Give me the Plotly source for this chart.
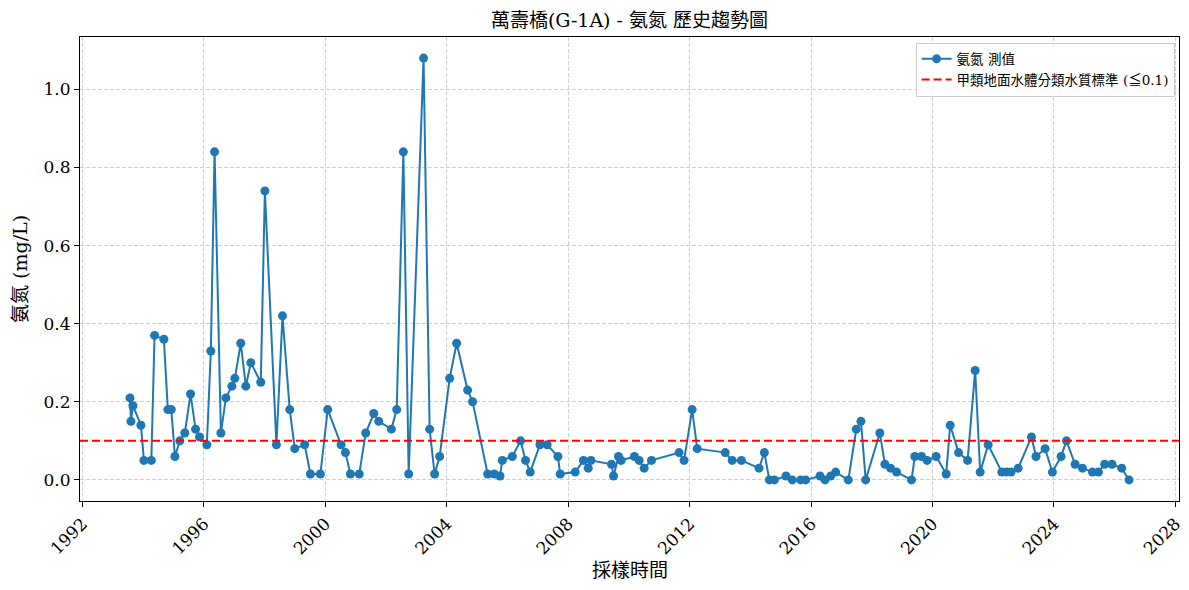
import pandas as pd
import plotly.graph_objects as go

# sampling dates and ammonia-nitrogen values (mg/L)
dates = [
    "1993-07-26", "1993-08-07", "1993-08-31", "1993-12-05", "1994-01-10", "1994-04-09",
    "1994-05-18", "1994-09-07", "1994-10-25", "1994-12-05", "1995-01-18", "1995-03-18",
    "1995-05-17", "1995-07-25", "1995-09-23", "1995-11-10", "1996-02-06", "1996-03-25",
    "1996-05-09", "1996-07-24", "1996-09-22", "1996-12-03", "1997-01-08", "1997-03-20",
    "1997-05-20", "1997-07-19", "1997-11-16", "1998-01-04", "1998-05-23", "1998-08-04",
    "1998-10-30", "1998-12-30", "1999-04-28", "1999-07-06", "1999-11-03", "2000-01-30",
    "2000-07-09", "2000-08-30", "2000-10-29", "2001-02-12", "2001-05-01", "2001-08-06",
    "2001-10-05", "2002-03-06", "2002-05-09", "2002-07-28", "2002-09-30", "2003-03-28",
    "2003-06-09", "2003-08-08", "2003-10-08", "2004-02-05", "2004-04-29", "2004-09-08",
    "2004-11-07", "2005-05-07", "2005-07-26", "2005-10-03", "2005-10-30", "2006-02-28",
    "2006-06-07", "2006-08-06", "2006-10-01", "2007-01-26", "2007-04-23", "2007-08-30",
    "2007-09-27", "2008-03-25", "2008-07-03", "2008-08-29", "2008-10-01", "2009-06-05",
    "2009-06-29", "2009-08-28", "2009-09-29", "2010-03-08", "2010-05-04", "2010-07-03",
    "2010-09-29", "2011-08-27", "2011-10-26", "2012-01-31", "2012-04-01", "2013-03-04",
    "2013-05-27", "2013-09-15", "2014-04-15", "2014-06-18", "2014-08-17", "2014-10-16",
    "2015-03-05", "2015-05-20", "2015-08-29", "2015-10-28", "2016-04-17", "2016-06-17",
    "2016-08-24", "2016-10-23", "2017-03-24", "2017-06-28", "2017-08-23", "2017-10-19",
    "2018-04-07", "2018-06-07", "2018-08-14", "2018-10-26", "2019-04-23", "2019-06-02",
    "2019-08-22", "2019-10-28", "2020-02-14", "2020-06-13", "2020-07-31", "2020-11-09",
    "2021-02-26", "2021-05-28", "2021-07-27", "2021-10-31", "2022-04-13", "2022-06-09",
    "2022-08-03", "2022-10-27", "2023-04-05", "2023-05-30", "2023-09-16", "2023-12-13",
    "2024-03-26", "2024-05-30", "2024-09-11", "2024-12-09", "2025-04-08", "2025-06-19",
    "2025-09-02", "2025-11-29", "2026-03-26", "2026-06-22",
]
nh3n = [
    0.21, 0.15, 0.19, 0.14, 0.05, 0.05,
    0.37, 0.36, 0.18, 0.18, 0.06, 0.10,
    0.12, 0.22, 0.13, 0.11, 0.09, 0.33,
    0.84, 0.12, 0.21, 0.24, 0.26, 0.35,
    0.24, 0.30, 0.25, 0.74, 0.09, 0.42,
    0.18, 0.08, 0.09, 0.015, 0.015, 0.18,
    0.09, 0.07, 0.015, 0.015, 0.12, 0.17,
    0.15, 0.13, 0.18, 0.84, 0.015, 1.08,
    0.13, 0.015, 0.06, 0.26, 0.35, 0.23,
    0.20, 0.015, 0.015, 0.01, 0.05, 0.06,
    0.10, 0.05, 0.02, 0.09, 0.09, 0.06,
    0.015, 0.02, 0.05, 0.03, 0.05, 0.04,
    0.01, 0.06, 0.05, 0.06, 0.05, 0.03,
    0.05, 0.07, 0.05, 0.18, 0.08, 0.07,
    0.05, 0.05, 0.03, 0.07, 0.00, 0.00,
    0.01, 0.00, 0.00, 0.00, 0.01, 0.00,
    0.01, 0.02, 0.00, 0.13, 0.15, 0.00,
    0.12, 0.04, 0.03, 0.02, 0.00, 0.06,
    0.06, 0.05, 0.06, 0.015, 0.14, 0.07,
    0.05, 0.28, 0.02, 0.09, 0.02, 0.02,
    0.02, 0.03, 0.11, 0.06, 0.08, 0.02,
    0.06, 0.10, 0.04, 0.03, 0.02, 0.02,
    0.04, 0.04, 0.03, 0.00,
]
standard = 0.1

FONT = "DejaVu Serif, Noto Sans CJK TC"

d = pd.to_datetime(dates)
span = d.max() - d.min()
x0 = d.min() - span * 0.05
x1 = d.max() + span * 0.05

fig = go.Figure()
fig.add_trace(go.Scatter(
    x=d, y=nh3n, mode="lines+markers", name="氨氮 測值",
    line=dict(color="#1f77b4", width=2),
    marker=dict(color="#1f77b4", size=9),
))
fig.add_trace(go.Scatter(
    x=[x0, x1], y=[standard, standard], mode="lines",
    name="甲類地面水體分類水質標準 (≦0.1)",
    line=dict(color="red", width=2, dash="8px,4px"),
))

# page body has an 8px margin, so the figure is 16px smaller than the window
fig.update_layout(
    width=1173, height=574,
    margin=dict(l=72, r=2, t=29, b=81),
    paper_bgcolor="white", plot_bgcolor="white",
    font=dict(family=FONT, size=17, color="black"),
    title=dict(text="萬壽橋(G-1A) - 氨氮 歷史趨勢圖", x=0.5, xref="paper", xanchor="center",
               y=0.979, yanchor="middle", font=dict(size=19)),
    legend=dict(x=0.996, y=0.988, xanchor="right", yanchor="top",
                bgcolor="rgba(255,255,255,0.8)", bordercolor="#cccccc", borderwidth=1,
                font=dict(size=13.5), tracegroupgap=0),
    showlegend=True,
    annotations=[
        dict(text="採樣時間", xref="paper", yref="paper", x=0.5, y=-0.149,
             xanchor="center", yanchor="middle", showarrow=False, font=dict(size=19)),
        dict(text="氨氮 (mg/L)", xref="paper", yref="paper", x=-0.0546, y=0.5,
             xanchor="center", yanchor="middle", textangle=-90, showarrow=False,
             font=dict(size=19)),
    ],
)
fig.update_xaxes(
    range=[x0, x1], tickformat="%Y", dtick="M48", tick0="1992-01-01",
    tickangle=-45, ticks="outside", ticklen=5, tickcolor="black",
    ticklabeloverflow="allow",
    showline=True, linecolor="black", linewidth=1.2, mirror=True,
    showgrid=True, gridcolor="#d0d0d0", griddash="4px,2px", gridwidth=1,
    zeroline=False, automargin=False,
)
fig.update_yaxes(
    range=[-0.054, 1.134], tickvals=[0, 0.2, 0.4, 0.6, 0.8, 1.0], tickformat=".1f",
    ticks="outside", ticklen=5, tickcolor="black",
    showline=True, linecolor="black", linewidth=1.2, mirror=True,
    showgrid=True, gridcolor="#d0d0d0", griddash="4px,2px", gridwidth=1,
    zeroline=False, automargin=False,
)

fig.write_html("out.html")
print("completed")
